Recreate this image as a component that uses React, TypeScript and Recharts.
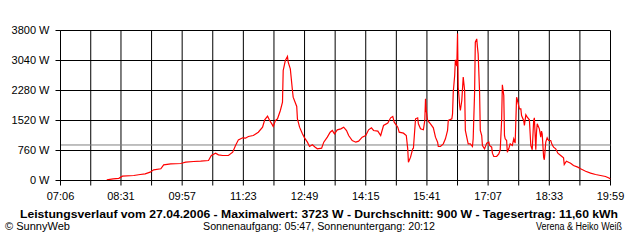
import React from 'react';
import { LineChart, Line, XAxis, YAxis, CartesianGrid, ReferenceLine } from 'recharts';

// Sample times (HH:MM) and power values (W)
const times: string[] = [
  '08:11','08:20','08:28','08:33','08:49','08:58','09:05','09:12','09:17','09:27',
  '09:31','09:41','09:55','10:02','10:13','10:23','10:34','10:38','10:44','10:48',
  '10:54','11:02','11:08','11:12','11:16','11:22','11:26','11:30','11:37','11:44',
  '11:50','11:53','11:57','12:00','12:03','12:05','12:08','12:11','12:15','12:18',
  '12:19','12:22','12:25','12:26','12:29','12:32','12:33','12:38','12:39','12:42',
  '12:46','12:49','12:53','12:56','13:00','13:04','13:07','13:13','13:16','13:21',
  '13:25','13:28','13:31','13:35','13:40','13:44','13:48','13:51','13:56','14:01',
  '14:05','14:10','14:15','14:19','14:23','14:26','14:32','14:36','14:40','14:46',
  '14:50','14:53','14:55','15:00','15:02','15:08','15:12','15:14','15:15','15:18',
  '15:21','15:22','15:25','15:28','15:29','15:32','15:36','15:38','15:39','15:40',
  '15:42','15:46','15:50','15:53','15:56','15:57','16:00','16:04','16:07','16:10',
  '16:11','16:16','16:17','16:18','16:20','16:21','16:23','16:24','16:25','16:27',
  '16:28','16:30','16:31','16:32','16:34','16:35','16:38','16:39','16:42','16:45',
  '16:46','16:48','16:49','16:51','16:52','16:53','16:55','16:56','16:58','16:59',
  '17:02','17:05','17:08','17:09','17:12','17:13','17:15','17:19','17:22','17:24',
  '17:26','17:27','17:29','17:30','17:31','17:33','17:34','17:36','17:38','17:41',
  '17:43','17:45','17:47','17:48','17:51','17:53','17:54','17:57','17:58','18:00',
  '18:02','18:05','18:07','18:09','18:11','18:12','18:14','18:15','18:16','18:19',
  '18:21','18:22','18:23','18:25','18:26','18:28','18:30','18:32','18:35','18:37',
  '18:39','18:42','18:45','18:49','18:53','18:54','18:57','19:03','19:07','19:13',
  '19:17','19:24','19:31','19:38','19:45','19:52','19:56','19:59',
];

const watts: number[] = [
  17, 42, 54, 110, 127, 152, 169, 211, 270, 296,
  397, 422, 430, 464, 481, 490, 506, 633, 692, 650,
  633, 633, 717, 887, 1030, 1081, 1073, 1115, 1140, 1224,
  1351, 1537, 1630, 1520, 1435, 1368, 1520, 1563, 1773, 1984,
  2787, 3040, 3141, 3000, 2829, 2280, 2111, 1875, 1563, 1351,
  1182, 1081, 971, 861, 904, 844, 802, 819, 971, 1098,
  1224, 1267, 1182, 1284, 1309, 1351, 1267, 1140, 1013, 971,
  996, 1098, 1140, 1284, 1334, 1267, 1250, 1140, 1393, 1453,
  1588, 1622, 1478, 1351, 1224, 1199, 1140, 802, 464, 591,
  802, 819, 1563, 1588, 1435, 1309, 1284, 1520, 2069, 1773,
  1520, 1435, 1334, 1098, 971, 861, 861, 929, 1056, 1267,
  1520, 1563, 1689, 2237, 2660, 3057, 2900, 3723, 2364, 1900,
  1773, 2027, 2322, 2618, 2280, 1267, 1013, 929, 929, 861,
  1056, 2237, 3504, 3588, 3378, 3209, 2237, 1267, 1140, 887,
  802, 946, 971, 887, 844, 692, 608, 608, 675, 777,
  1520, 2423, 2153, 1140, 1056, 1013, 717, 802, 929, 887,
  1056, 946, 2111, 2052, 1816, 1816, 1647, 1520, 1393, 1664,
  1605, 1537, 887, 777, 1520, 1588, 777, 1224, 1435, 1309,
  1098, 1250, 1182, 591, 524, 971, 1081, 1013, 1013, 904,
  844, 802, 692, 633, 574, 405, 490, 439, 380, 338,
  296, 236, 186, 152, 127, 101, 68, 42,
];

const xTickLabels: string[] = ['07:06', '08:31', '09:57', '11:23', '12:49', '14:15', '15:41', '17:07', '18:33', '19:59'];
const yTicks: number[] = [0, 760, 1520, 2280, 3040, 3800];
const average = 900;

const titleText = 'Leistungsverlauf vom 27.04.2006 - Maximalwert: 3723 W - Durchschnitt: 900 W - Tagesertrag: 11,60 kWh';
const leftFooter = '\u00A9 SunnyWeb';
const midFooter = 'Sonnenaufgang: 05:47, Sonnenuntergang: 20:12';
const rightFooter = 'Verena & Heiko Wei\u00DF';

const toMin = (s: string) => {
  const [h, m] = s.split(':').map(Number);
  return h * 60 + m;
};
const fmt = (v: number) => {
  const h = Math.floor(v / 60);
  const m = Math.round(v - h * 60);
  return `${String(h).padStart(2, '0')}:${String(m).padStart(2, '0')}`;
};

const data = times.map((t, i) => ({ t: toMin(t), w: watts[i] }));
const labelMins = xTickLabels.map(toMin);
const xTicks: number[] = [];
labelMins.forEach((m, i) => {
  xTicks.push(m);
  if (i < labelMins.length - 1) xTicks.push((m + labelMins[i + 1]) / 2);
});
const labelSet = new Set(labelMins);

const FONT = '"Liberation Sans", Arial, sans-serif';

export default function App() {
  return (
    <div style={{ position: 'absolute', left: 0, top: 0, width: 640, height: 240, background: '#fff' }}>
      <LineChart
        width={640}
        height={240}
        data={data}
        margin={{ top: 30.5, right: 29.5, bottom: 39.5, left: 0 }}
      >
        <CartesianGrid stroke="#000" strokeWidth={1} />
        <XAxis
          dataKey="t"
          type="number"
          domain={[labelMins[0], labelMins[labelMins.length - 1]]}
          ticks={xTicks}
          interval={0}
          height={20}
          tickSize={5}
          tickMargin={7}
          axisLine={{ stroke: '#000' }}
          tickLine={{ stroke: '#000' }}
          tick={{ fill: '#000', fontSize: 11, fontFamily: FONT }}
          tickFormatter={(v: number) => (labelSet.has(v) ? fmt(v) : '')}
          allowDataOverflow
        />
        <YAxis
          type="number"
          domain={[0, 3800]}
          ticks={yTicks}
          interval={0}
          width={60.5}
          tickSize={5}
          tickMargin={6}
          axisLine={{ stroke: '#000' }}
          tickLine={{ stroke: '#000' }}
          tick={{ fill: '#000', fontSize: 11, fontFamily: FONT }}
          tickFormatter={(v: number) => `${v} W`}
          allowDataOverflow
        />
        <ReferenceLine y={average} stroke="#808080" strokeWidth={1} />
        <Line
          type="linear"
          dataKey="w"
          stroke="#ff0000"
          strokeWidth={1.2}
          dot={false}
          activeDot={false}
          isAnimationActive={false}
        />
      </LineChart>
      <svg
        width={640}
        height={240}
        style={{ position: 'absolute', left: 0, top: 0, pointerEvents: 'none' }}
      >
        <text x={20} y={218} fontFamily={FONT} fontSize={10} fontWeight="bold" fill="#000" textLength={598} lengthAdjust="spacingAndGlyphs">
          {titleText}
        </text>
        <text x={5} y={229.5} fontFamily={FONT} fontSize={10} fill="#000" textLength={65} lengthAdjust="spacingAndGlyphs">
          {leftFooter}
        </text>
        <text x={203} y={229.5} fontFamily={FONT} fontSize={10} fill="#000" textLength={232} lengthAdjust="spacingAndGlyphs">
          {midFooter}
        </text>
        <text x={536} y={229.5} fontFamily={FONT} fontSize={10} fill="#000" textLength={86} lengthAdjust="spacingAndGlyphs">
          {rightFooter}
        </text>
      </svg>
    </div>
  );
}
